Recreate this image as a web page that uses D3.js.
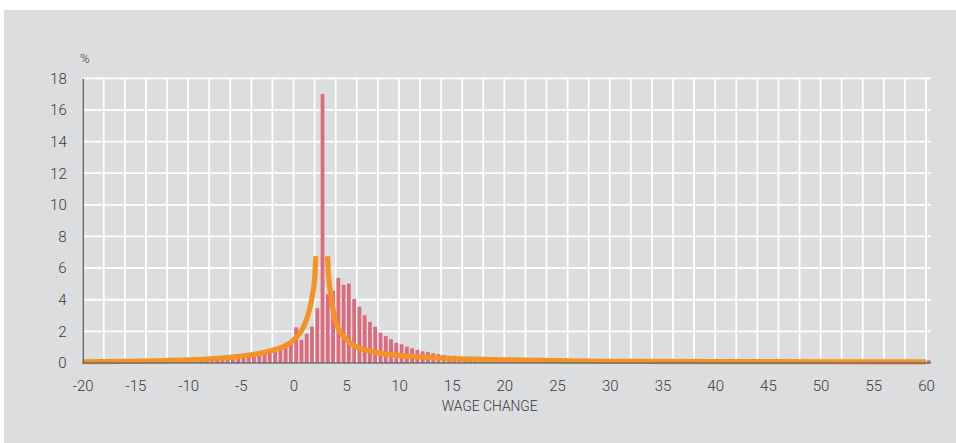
<!DOCTYPE html>
<html>
<head>
<meta charset="utf-8">
<script src="https://cdn.jsdelivr.net/npm/d3@7"></script>
<style>
    html, body { margin: 0; padding: 0; background: #fff; }
    svg { display: block; }
    text { font-family: "Roboto", "Liberation Sans", sans-serif; font-weight: 300; fill: #3a3a3a; }
</style>
</head>
<body>
<svg id="wage-chart" width="956" height="443"></svg>
<script>
// histogram bins of 0.5 pp, from -20 to 60 (last bin = 60 and above)
var binStarts = d3.range(-20, 60.5, 0.5);

var barValues = [
    // -20 .. -0.5
    0.08, 0.07, 0.07, 0.07, 0.08, 0.07, 0.08, 0.08, 0.09, 0.08,
    0.11, 0.09, 0.10, 0.10, 0.11, 0.12, 0.13, 0.13, 0.14, 0.15,
    0.20, 0.17, 0.19, 0.20, 0.23, 0.24, 0.26, 0.28, 0.31, 0.33,
    0.40, 0.39, 0.44, 0.49, 0.56, 0.64, 0.74, 0.85, 1.00, 1.20,
    // 0 .. 14.5
    2.26, 1.46, 1.84, 2.30, 3.46, 17.0, 4.35, 4.56, 5.38, 4.94,
    5.02, 4.05, 3.56, 3.02, 2.60, 2.30, 1.91, 1.70, 1.50, 1.28,
    1.18, 1.03, 0.93, 0.82, 0.74, 0.68, 0.61, 0.56, 0.50, 0.46,
    // 15 .. 59.5
    0.45, 0.40, 0.37, 0.34, 0.31, 0.29, 0.27, 0.25, 0.23, 0.21,
    0.24, 0.18, 0.17, 0.16, 0.15, 0.14, 0.13, 0.12, 0.12, 0.11,
    0.13, 0.10, 0.09, 0.09, 0.08, 0.08, 0.08, 0.07, 0.07, 0.07,
    0.09, 0.06, 0.06, 0.06, 0.06, 0.05, 0.05, 0.05, 0.05, 0.05,
    0.07, 0.05, 0.05, 0.04, 0.04, 0.04, 0.04, 0.04, 0.04, 0.04,
    0.06, 0.04, 0.04, 0.04, 0.04, 0.03, 0.03, 0.03, 0.03, 0.03,
    0.05, 0.03, 0.03, 0.03, 0.03, 0.03, 0.03, 0.03, 0.03, 0.03,
    0.05, 0.03, 0.03, 0.03, 0.02, 0.02, 0.02, 0.02, 0.02, 0.02,
    0.03, 0.02, 0.02, 0.02, 0.02, 0.02, 0.02, 0.02, 0.02, 0.02,
    // 60+
    0.17
];

// fitted curve, two branches either side of the spike
var curveLeftX = [-20, -16, -13, -10, -8, -6, -4, -3, -2, -1, -0.5, 0, 0.5, 1, 1.3, 1.6, 1.8, 2.0, 2.12];
var curveLeftY = [0.08, 0.10, 0.14, 0.20, 0.26, 0.36, 0.52, 0.64, 0.80, 1.02, 1.20, 1.45, 1.80, 2.35, 2.90, 3.60, 4.30, 5.30, 6.75];
var curveRightX = [3.22, 3.35, 3.55, 3.8, 4, 4.5, 5, 5.5, 6, 7, 8, 10, 12, 15, 18, 20, 25, 30, 40, 50, 60];
var curveRightY = [6.75, 5.30, 4.30, 3.20, 2.60, 1.90, 1.50, 1.20, 1.00, 0.80, 0.65, 0.48, 0.38, 0.28, 0.23, 0.20, 0.15, 0.11, 0.09, 0.08, 0.07];

var xTicks = [-20, -15, -10, -5, 0, 5, 10, 15, 20, 25, 30, 35, 40, 45, 50, 55, 60];
var yTicks = [0, 2, 4, 6, 8, 10, 12, 14, 16, 18];
var xGrid = d3.range(-20, 61, 2);

var svg = d3.select('#wage-chart');

svg.append('rect')
    .attr('x', 4).attr('y', 10)
    .attr('width', 952).attr('height', 433)
    .attr('fill', '#dcdddf');

var x = d3.scaleLinear().domain([-20, 60]).range([82.7, 926]);
var y = d3.scaleLinear().domain([0, 18]).range([363, 78.3]);
var gridRight = 931;

// grid
svg.append('g')
    .selectAll('line')
    .data(yTicks.filter(function(d) { return d > 0; }))
    .enter()
    .append('line')
    .attr('x1', x(-20)).attr('x2', gridRight)
    .attr('y1', function(d) { return y(d); })
    .attr('y2', function(d) { return y(d); })
    .attr('stroke', '#fff')
    .attr('stroke-width', 1.8);

svg.append('g')
    .selectAll('line')
    .data(xGrid)
    .enter()
    .append('line')
    .attr('x1', function(d) { return x(d); })
    .attr('x2', function(d) { return x(d); })
    .attr('y1', y(18)).attr('y2', y(0))
    .attr('stroke', '#fff')
    .attr('stroke-width', 1.8);

// bars
var binPx = x(0.5) - x(0);
var barW = binPx * 0.72;

svg.append('g')
    .selectAll('rect')
    .data(binStarts)
    .enter()
    .append('rect')
    .attr('x', function(d) { return x(d + 0.25) - barW / 2; })
    .attr('width', barW)
    .attr('y', function(d, i) { return y(barValues[i]); })
    .attr('height', function(d, i) { return y(0) - y(barValues[i]); })
    .attr('fill', '#dc6b7e');

// fitted curve
var line = d3.line()
    .x(function(d) { return x(d[0]); })
    .y(function(d) { return y(d[1]); })
    .curve(d3.curveMonotoneX);

[[curveLeftX, curveLeftY], [curveRightX, curveRightY]].forEach(function(c) {
    var pts = c[0].map(function(v, i) { return [v, c[1][i]]; });
    svg.append('path')
        .datum(pts)
        .attr('d', line)
        .attr('fill', 'none')
        .attr('stroke', '#f39325')
        .attr('stroke-width', 5.2);
});

// axes
var yAxis = svg.append('g')
    .attr('transform', 'translate(' + x(-20) + ',0)')
    .call(d3.axisLeft(y).tickValues(yTicks).tickSize(0).tickSizeOuter(0).tickPadding(16));
yAxis.select('.domain').attr('stroke', '#5a5b5d').attr('stroke-width', 1.4);
yAxis.selectAll('text').style('font-size', '15px').attr('fill', '#3a3a3a');

var xAxis = svg.append('g')
    .attr('transform', 'translate(0,' + y(0) + ')')
    .call(d3.axisBottom(x).tickValues(xTicks).tickSize(0).tickPadding(17)
        .tickFormat(function(d) { return String(d); }));
xAxis.select('.domain').remove();
xAxis.selectAll('text').style('font-size', '15px').attr('fill', '#3a3a3a');

svg.append('line')
    .attr('x1', x(-20)).attr('x2', gridRight)
    .attr('y1', y(0)).attr('y2', y(0))
    .attr('stroke', '#6d6e71')
    .attr('stroke-width', 1.4);

// labels
svg.append('text')
    .attr('x', 80).attr('y', 63)
    .style('font-size', '13px')
    .text('%');

svg.append('text')
    .attr('x', 489.7).attr('y', 411)
    .attr('text-anchor', 'middle')
    .style('font-size', '13.8px')
    .text('WAGE CHANGE');
</script>
</body>
</html>
